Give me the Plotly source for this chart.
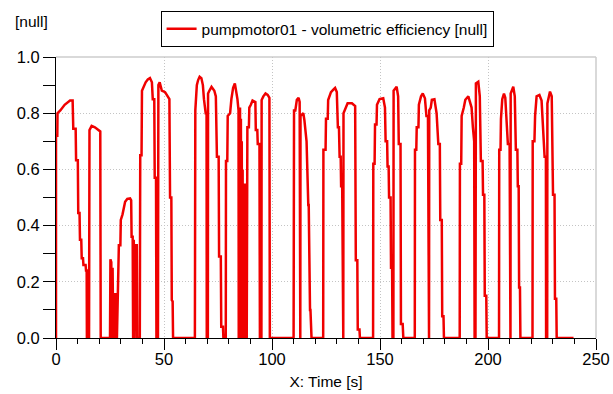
import plotly.graph_objects as go

# time [s] and volumetric efficiency [null]
time_s = [
    0, 0, 0.6, 0.7, 2, 4, 6.5, 7.7, 8.0, 9.1, 9.3, 10.1, 10.3, 10.9, 11.1, 11.7, 11.9, 12.5, 12.7, 13.7,
    13.9, 14.2, 14.3, 14.5, 14.7, 14.9, 15.1, 15.3,
    15.5, 16.5, 18, 19.5, 20.5, 20.7,
    25, 25.2, 25.6, 25.8, 26.2, 26.5, 27, 27.3, 27.8, 28.2, 28.6, 28.9, 29.1, 29.8, 30, 30.8, 31.2, 32,
    33, 34.3, 34.8, 35, 35.5, 35.7, 36, 36.4, 36.7, 37.4, 37.6,
    38.8, 39, 39.6, 39.8, 40.8, 41.5, 42.5, 43.5, 44.4, 44.8, 45.5, 45.7, 46.3, 46.5,
    47.2, 47.4, 48, 49, 50.5, 51.5, 52.5, 52.8, 53.4, 53.6, 54, 54.2,
    64.3, 64.5, 65.2, 65.8, 66.5, 67.3, 68, 68.5, 69.3, 69.7, 69.8,
    70.3, 70.4, 71, 72, 73.3, 74, 74.5, 75.3, 75.5, 76.3, 76.5, 77.3, 77.5,
    78.6, 78.7, 79.3, 79.5, 80.6, 81.2, 82, 82.8, 83.5, 84, 84.5,
    84.6, 84.8, 85.0, 85.2, 85.4, 85.6, 85.8, 86.0, 86.2, 86.4, 86.6, 86.8, 87.0, 87.2, 87.4, 87.6,
    87.8, 88.0, 88.3,
    88.6, 89.3, 89.5, 90.2, 91, 92.3, 92.5, 93.2, 93.4, 94.2, 94.4,
    95.1, 95.2, 96, 97, 98, 98.8, 99,
    110.0, 110.2, 110.8, 111.5, 112.3, 112.8, 113.0, 113.1, 113.2, 114.5, 115, 115.8, 116.0, 116.8,
    117.0, 117.6, 117.8, 118.3,
    123.7, 123.8, 124.8, 125, 125.8, 126, 127.3, 128.5, 129.2, 130, 130.5, 131, 131.3, 131.8, 132,
    132.5, 132.7,
    133, 133.1, 134.4, 135, 137, 137.8, 138.5, 138.8, 139.5, 139.7, 140.5, 140.7,
    146.8, 146.9, 147.5, 147.7, 148.4, 148.6, 149.8, 151.5, 152.3, 152.6, 153.3, 153.5, 154, 154.2,
    154.9, 155.1, 155.6, 155.8,
    156.2, 156.3, 157.7, 158.4, 158.7, 159.5, 159.7, 160.5, 160.8,
    166.1, 166.2, 166.8, 167, 167.8, 168, 169, 169.8, 170.8, 171.5, 172.2, 172.4,
    172.7, 172.8, 173.5, 174, 175.2, 176.2, 177, 177.7, 177.9, 178.6, 178.8, 179.4, 179.6,
    186.9, 187, 187.6, 187.8, 188.8, 189.5, 190.9, 192.4, 193, 193.6, 193.8,
    194.2, 194.4, 195.5, 196.2, 196.7, 197.5, 197.7, 198.3, 198.5, 199.2, 199.4,
    205.1, 205.2, 205.8, 206, 206.6, 207.4, 208, 208.6, 209.2, 210, 210.2,
    210.4, 210.5, 211.7, 212.4, 212.9, 213.6, 213.8, 214.2, 214.4, 214.8, 215,
    220.6, 220.7, 221.5, 221.8, 222.5, 223.8, 224.8, 225.5, 226.2, 226.8, 226.9,
    227.4, 227.5, 228.7, 229.5, 230.1, 230.8, 231, 231.6, 231.8,
    239.6,
]
efficiency = [
    0, 0.72, 0.72, 0.80, 0.81, 0.83, 0.845, 0.845, 0.745, 0.745, 0.633, 0.633, 0.445, 0.445, 0.35, 0.35,
    0.284, 0.284, 0.26, 0.26,
    0.24, 0.24, 0, 0.24, 0, 0.2, 0, 0,
    0.74, 0.755, 0.75, 0.74, 0.735, 0,
    0, 0.28, 0.27, 0, 0.25, 0, 0.16, 0, 0.16, 0, 0.16, 0.16, 0.33, 0.33, 0.42, 0.44, 0.46, 0.485,
    0.495, 0.497, 0.49, 0.36, 0.36, 0, 0.35, 0, 0.33, 0.33, 0,
    0, 0.65, 0.65, 0.88, 0.90, 0.91, 0.92, 0.925, 0.91, 0.85, 0.85, 0.57, 0.57, 0,
    0, 0.90, 0.91, 0.88, 0.875, 0.86, 0.85, 0.50, 0.50, 0.135, 0.13, 0,
    0, 0.81, 0.90, 0.918, 0.93, 0.925, 0.90, 0.85, 0.80, 0.80, 0,
    0, 0.87, 0.88, 0.894, 0.88, 0.86, 0.645, 0.645, 0.29, 0.29, 0.04, 0.04, 0,
    0, 0.63, 0.63, 0.79, 0.80, 0.85, 0.89, 0.906, 0.88, 0.85, 0.81,
    0, 0.80, 0, 0.82, 0, 0.78, 0, 0.70, 0, 0.60, 0, 0.55, 0, 0.55, 0, 0.55,
    0, 0.55, 0,
    0.75, 0.75, 0.82, 0.83, 0.845, 0.84, 0.74, 0.74, 0.69, 0.69, 0,
    0, 0.847, 0.86, 0.87, 0.865, 0.855, 0,
    0, 0.81, 0.81, 0.848, 0.855, 0.84, 0, 0, 0.79, 0.80, 0.775, 0.70, 0.70, 0.473,
    0.473, 0.10, 0.10, 0,
    0, 0.67, 0.67, 0.78, 0.78, 0.847, 0.875, 0.885, 0.89, 0.875, 0.75, 0.75, 0.645, 0.645, 0.54,
    0.54, 0,
    0, 0.80, 0.82, 0.835, 0.835, 0.83, 0.825, 0.277, 0.277, 0.03, 0.03, 0,
    0, 0.62, 0.62, 0.76, 0.76, 0.83, 0.85, 0.853, 0.82, 0.70, 0.70, 0.61, 0.61, 0.50,
    0.50, 0.25, 0.25, 0,
    0, 0.88, 0.894, 0.86, 0.69, 0.69, 0.05, 0.05, 0,
    0, 0.67, 0.67, 0.75, 0.75, 0.83, 0.86, 0.87, 0.853, 0.79, 0.79, 0,
    0, 0.81, 0.82, 0.848, 0.85, 0.80, 0.69, 0.69, 0.42, 0.42, 0.077, 0.077, 0,
    0, 0.62, 0.62, 0.79, 0.82, 0.848, 0.86, 0.82, 0.75, 0.70, 0,
    0, 0.906, 0.912, 0.86, 0.63, 0.63, 0.51, 0.51, 0.15, 0.15, 0,
    0, 0.67, 0.67, 0.78, 0.85, 0.87, 0.855, 0.79, 0.69, 0.69, 0,
    0, 0.87, 0.894, 0.86, 0.67, 0.67, 0.54, 0.54, 0.18, 0.18, 0,
    0, 0.70, 0.70, 0.79, 0.86, 0.865, 0.845, 0.76, 0.645, 0.645, 0,
    0, 0.835, 0.877, 0.86, 0.51, 0.51, 0.14, 0.14, 0,
    0,
]

series_name = "pumpmotor01 - volumetric efficiency [null]"
x_ticks = [0, 50, 100, 150, 200, 250]
y_ticks = [0.0, 0.2, 0.4, 0.6, 0.8, 1.0]
y_tick_text = ["0.0", "0.2", "0.4", "0.6", "0.8", "1.0"]

FONT = "Liberation Sans, Arial, sans-serif"
TXT = 15.5
TICK = 16.5

fig = go.Figure()
fig.add_trace(go.Scatter(
    x=time_s, y=efficiency, mode="lines", name=series_name,
    line=dict(color="rgb(240,0,0)", width=2.5),
    showlegend=True,
))

fig.update_layout(
    width=613, height=394,
    margin=dict(l=56, r=17, t=57, b=56, autoexpand=False),
    paper_bgcolor="white", plot_bgcolor="white",
    font=dict(family=FONT, size=TXT, color="black"),
    showlegend=True,
    legend=dict(
        x=0.502, xanchor="center", y=1.163, yanchor="top",
        bordercolor="black", borderwidth=1, bgcolor="white",
        font=dict(family=FONT, size=TXT, color="black"),
        itemwidth=30,
    ),
    xaxis=dict(
        range=[0, 250], tickvals=x_ticks, ticktext=[str(v) for v in x_ticks],
        showline=True, linecolor="black", linewidth=1,
        ticks="outside", ticklen=11, tickcolor="black",
        minor=dict(dtick=10, ticks="outside", ticklen=5, tickcolor="black", showgrid=False),
        showgrid=True, gridcolor="#c4c4c4", griddash="1px,2px", gridwidth=1,
        zeroline=False, automargin=False,
        ticklabelstandoff=-5,
        title=dict(text="X: Time [s]", standoff=9, font=dict(family=FONT, size=TXT)),
        tickfont=dict(family=FONT, size=TICK),
    ),
    yaxis=dict(
        range=[0, 1.0], tickvals=y_ticks, ticktext=y_tick_text,
        showline=True, linecolor="black", linewidth=1,
        ticks="outside", ticklen=12, tickcolor="black",
        minor=dict(dtick=0.1, ticks="outside", ticklen=12, tickcolor="black", showgrid=False),
        showgrid=True, gridcolor="#c4c4c4", griddash="1px,2px", gridwidth=1,
        zeroline=False, automargin=False,
        tickfont=dict(family=FONT, size=TICK),
    ),
    shapes=[
        dict(type="line", xref="paper", yref="paper", x0=0, x1=1, y0=1, y1=1,
             line=dict(color="#cccccc", width=1.5), layer="below"),
        dict(type="line", xref="paper", yref="paper", x0=1, x1=1, y0=0, y1=1,
             line=dict(color="#cccccc", width=1.5), layer="below"),
    ],
    annotations=[
        dict(text="[null]", xref="paper", yref="paper", x=-0.046, y=1.128,
             xanchor="center", yanchor="middle", showarrow=False,
             font=dict(family=FONT, size=TXT, color="black")),
    ],
)

fig.write_html(
    "out.html",
    config={"displayModeBar": False, "staticPlot": True},
    post_script="document.body.style.margin='0';document.body.style.overflow='hidden';",
)
